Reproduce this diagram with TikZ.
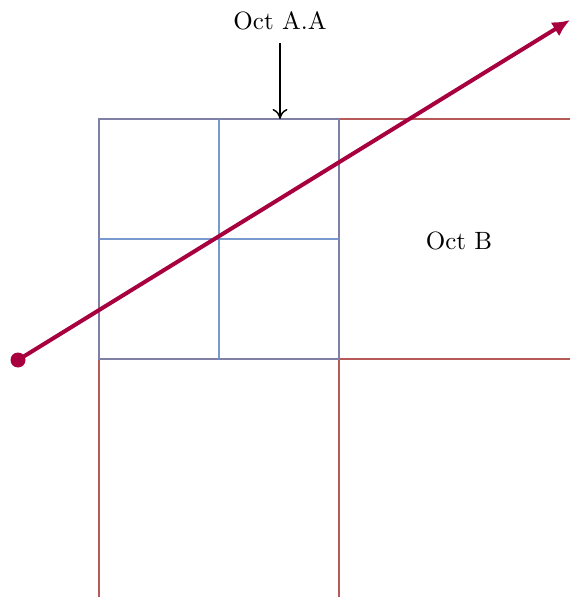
\documentclass[tikz,border=0pt]{standalone}
\usetikzlibrary{arrows.meta}
\definecolor{octred}{HTML}{B65A58}
\definecolor{octblue}{HTML}{6A8FC8}
\definecolor{raycol}{HTML}{A8003F}
\begin{document}
\begin{tikzpicture}[x=0.4pt, y=-0.4pt]
\useasboundingbox (0,0) rectangle (569,597);
% level 1 cells
\draw[octred, line width=0.8pt] (99,119) rectangle ++(240,240);
\draw[octred, line width=0.8pt] (339,119) rectangle ++(240,240);
\draw[octred, line width=0.8pt] (99,359) rectangle ++(240,240);
\draw[octred, line width=0.8pt] (339,359) rectangle ++(240,240);
% level 2 cells
\draw[octblue, opacity=0.7, line width=0.8pt] (99,119) rectangle ++(120,120);
\draw[octblue, opacity=0.7, line width=0.8pt] (219,119) rectangle ++(120,120);
\draw[octblue, opacity=0.7, line width=0.8pt] (99,239) rectangle ++(120,120);
\draw[octblue, opacity=0.7, line width=0.8pt] (219,239) rectangle ++(120,120);
% labels
\node (octaa) at (280,21) {Oct A.A};
\coordinate (octaatop) at (280,119);
\draw[-{To[length=4pt,width=6pt]}, line width=0.6pt] (octaa.south) ++(0,4) -- (octaatop);
\node (octb) at (459,241) {Oct B};
% ray
\coordinate (raystart) at (18,360);
\coordinate (rayend) at (570,20);
\draw[raycol, line width=1.6pt, -{Latex[length=7pt,width=6.5pt]}] (raystart) -- (rayend);
\fill[raycol] (raystart) circle (3pt);
\end{tikzpicture}
\end{document}
